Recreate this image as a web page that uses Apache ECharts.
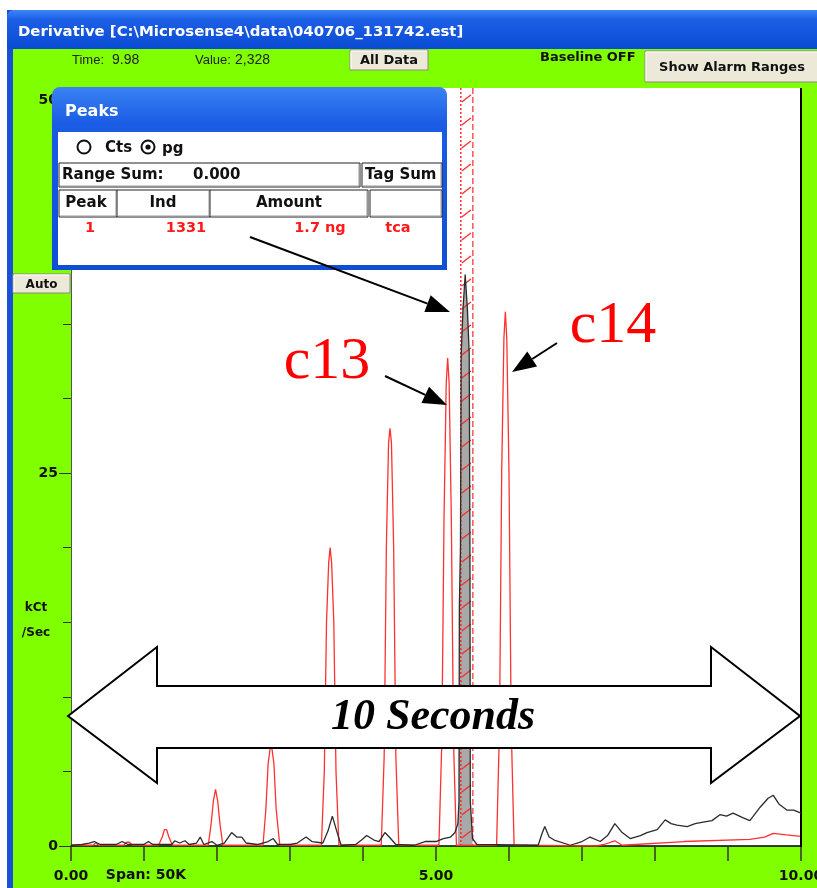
<!DOCTYPE html>
<html><head><meta charset="utf-8">
<script src="https://cdn.jsdelivr.net/npm/echarts@6/dist/echarts.min.js"></script>
<style>html,body{margin:0;padding:0;background:#fff;overflow:hidden}#c{width:817px;height:888px}</style>
</head><body><div id="c"></div>
<script>
// ---- data (time in seconds, signal in kCt/Sec) ----
const xTickLabels = {0: '0.00', 5: '5.00', 10: '10.00'};
const yTickLabels = {0: '0', 25: '25', 50: '50'};
const redTrace = [
[0.00,0.05],[0.30,0.05],[0.34,0.2],[0.38,0.05],[0.72,0.05],[0.76,0.25],[0.80,0.25],[0.84,0.05],
[1.20,0.05],[1.25,0.6],[1.28,1.1],[1.31,1.1],[1.34,0.6],[1.39,0.05],
[1.88,0.05],[1.92,1.5],[1.95,3.0],[1.98,3.8],[2.01,3.0],[2.04,1.5],[2.08,0.05],
[2.63,0.05],[2.67,2.5],[2.70,5.5],[2.74,7.0],[2.78,5.5],[2.81,2.5],[2.86,0.05],
[3.43,0.05],[3.47,5],[3.50,15],[3.53,19],[3.55,20.0],[3.57,19],[3.60,15],[3.63,5],[3.67,0.05],
[4.25,0.05],[4.29,6],[4.32,20],[4.35,27],[4.37,28.0],[4.39,27],[4.42,20],[4.45,6],[4.49,0.05],
[5.04,0.05],[5.08,7],[5.11,22],[5.14,31],[5.16,32.7],[5.18,31],[5.21,22],[5.24,7],[5.28,0.05],
[5.83,0.05],[5.87,8],[5.90,25],[5.93,34],[5.95,35.8],[5.97,34],[6.00,25],[6.03,8],[6.07,0.05],
[7.20,0.0],[7.30,0.1],[7.45,0.35],[7.55,0.05],[8.40,0.3],[9.30,0.45],[9.50,0.6],[9.62,0.85],[9.80,0.75],[10.00,0.65]
];
const blackTrace = [
[0.00,0.05],[0.15,0.1],[0.25,0.2],[0.32,0.3],[0.40,0.1],[0.62,0.1],[0.70,0.3],[0.78,0.1],[1.00,0.1],[1.06,0.3],[1.12,0.1],
[1.38,0.1],[1.42,0.35],[1.49,0.2],[1.56,0.35],[1.62,0.1],[1.72,0.2],[1.77,0.6],[1.82,0.1],[1.93,0.3],[2.00,0.05],
[2.10,0.2],[2.20,0.9],[2.27,0.6],[2.34,0.6],[2.40,0.2],[2.55,0.1],[2.70,0.3],[2.77,0.5],[2.83,0.1],[3.00,0.1],[3.10,0.2],
[3.22,0.6],[3.30,0.3],[3.45,0.2],[3.52,1.0],[3.58,2.0],[3.64,1.0],[3.70,0.05],[3.90,0.1],[3.98,0.4],[4.05,0.7],[4.15,0.4],
[4.22,0.3],[4.30,0.9],[4.36,0.6],[4.45,0.1],[4.70,0.05],[4.85,0.3],[5.00,0.3],[5.10,0.5],[5.20,0.6],[5.26,0.9],[5.30,1.5],
[5.315,3],[5.32,16],[5.335,20],[5.345,33],[5.37,36],[5.40,38.3],[5.43,36],[5.455,33],[5.465,20],[5.47,3],[5.50,0.5],[5.56,0.1],
[6.40,0.05],[6.45,0.8],[6.49,1.3],[6.55,0.6],[6.62,0.4],[6.84,0.05],[7.00,0.3],[7.11,0.6],[7.25,0.3],[7.35,0.7],[7.45,1.5],
[7.55,0.9],[7.66,0.5],[7.80,0.7],[7.89,0.9],[8.03,1.1],[8.14,1.75],[8.22,1.5],[8.30,1.4],[8.44,1.3],[8.55,1.5],[8.66,1.6],
[8.78,1.7],[8.89,2.1],[8.98,2.0],[9.07,2.2],[9.20,1.9],[9.30,1.7],[9.44,2.6],[9.55,3.2],[9.62,3.4],[9.70,2.8],[9.81,2.4],
[9.90,2.4],[10.00,2.2]
];
const tagRange = [5.34, 5.505];   // integration window markers
const peakTable = ['1', '1331', '1.7 ng', 'tca'];

// ---- chart ----
const chart = echarts.init(document.getElementById('c'), null, {renderer: 'canvas'});
const UI = 'DejaVu Sans, Verdana, sans-serif';
const AR = 'Liberation Sans, Arial, sans-serif';
const btnFill = '#ECE9D8';
function button(x, y, w, h, label, size) {
  return [
    {type: 'rect', z: 60, shape: {x: x, y: y, width: w, height: h}, style: {fill: btnFill, stroke: '#8a8a80', lineWidth: 1}},
    {type: 'polyline', z: 61, shape: {points: [[x + 1, y + h - 1], [x + 1, y + 1], [x + w - 1, y + 1]]}, style: {stroke: '#fff', lineWidth: 1, fill: null}},
    {type: 'text', z: 62, style: {x: x + w / 2, y: y + h / 2 + 1, text: label, fill: '#111', font: 'bold ' + size + 'px ' + UI, align: 'center', verticalAlign: 'middle'}}
  ];
}
function cell(x, y, w, h) {
  return [
    {type: 'rect', z: 71, shape: {x: x, y: y, width: w, height: h}, style: {fill: '#fff', stroke: '#222', lineWidth: 1}},
    {type: 'polyline', z: 72, shape: {points: [[x + 1, y + h - 1], [x + w - 1, y + h - 1], [x + w - 1, y + 1]]}, style: {stroke: '#999', lineWidth: 1, fill: null}}
  ];
}
function txt(x, y, s, font, color, align, z) {
  return {type: 'text', z: z || 75, style: {x: x, y: y, text: s, font: font, fill: color || '#111', align: align || 'left', verticalAlign: 'middle'}};
}
function arrow(x1, y1, x2, y2) {
  const a = Math.atan2(y2 - y1, x2 - x1), L = 24, W = 9;
  const bx = x2 - L * Math.cos(a), by = y2 - L * Math.sin(a);
  const px = -Math.sin(a) * W, py = Math.cos(a) * W;
  return [
    {type: 'line', z: 90, shape: {x1: x1, y1: y1, x2: bx, y2: by}, style: {stroke: '#000', lineWidth: 2}},
    {type: 'polygon', z: 90, shape: {points: [[x2, y2], [bx + px, by + py], [bx - px, by - py]]}, style: {fill: '#000'}}
  ];
}

const graphics = [
  // window frame
  {type: 'rect', z: -30, shape: {x: 7, y: 10, width: 810, height: 878}, style: {fill: '#80FF00'}},
  {type: 'rect', z: -29, shape: {x: 7, y: 10, width: 6, height: 878}, style: {fill: '#1a4fd8'}},
  {type: 'rect', z: -29, shape: {x: 7, y: 10, width: 810, height: 39, r: [7, 0, 0, 0]},
    style: {fill: new echarts.graphic.LinearGradient(0, 0, 0, 1, [{offset: 0, color: '#3d86f5'}, {offset: 0.25, color: '#1c5fe6'}, {offset: 1, color: '#0a4bd4'}])}},
  txt(18, 32, 'Derivative [C:\\Microsense4\\data\\040706_131742.est]', 'bold 14.9px ' + UI, '#ffffff', 'left', -28),
  // plot background
  {type: 'rect', z: -25, shape: {x: 71, y: 88, width: 730, height: 758}, style: {fill: '#ffffff'}},
  {type: 'line', z: 5, shape: {x1: 801, y1: 88, x2: 801, y2: 847}, style: {stroke: '#000', lineWidth: 2}},
  // header info
  txt(72, 60, 'Time:', '13px ' + AR, '#222'),
  txt(112, 60, '9.98', '14px ' + AR, '#222'),
  txt(195, 60, 'Value:', '13px ' + AR, '#222'),
  txt(235, 60, '2,328', '14px ' + AR, '#222'),
  ...button(350, 50, 78, 20, 'All Data', 13),
  txt(540, 58, 'Baseline OFF', 'bold 13px ' + UI, '#111'),
  ...button(645, 51, 174, 31, 'Show Alarm Ranges', 13),
  ...button(13, 274, 57, 19, 'Auto', 12),
  txt(36, 608, 'kCt', 'bold 12px ' + UI, '#111', 'center'),
  txt(36, 633, '/Sec', 'bold 12px ' + UI, '#111', 'center'),
  txt(146, 875, 'Span: 50K', 'bold 14px ' + UI, '#111', 'center'),
  // Peaks window
  {type: 'rect', z: 70, shape: {x: 52, y: 87, width: 395, height: 183, r: [8, 8, 0, 0]},
    style: {fill: new echarts.graphic.LinearGradient(0, 0, 0, 1, [{offset: 0, color: '#3a82f4'}, {offset: 0.2, color: '#1a5ce4'}, {offset: 1, color: '#0f4fd6'}])}},
  {type: 'rect', z: 70, shape: {x: 58, y: 132, width: 384, height: 133}, style: {fill: '#fff'}},
  txt(65, 112, 'Peaks', 'bold 16px ' + UI, '#ffffff'),
  {type: 'circle', z: 75, shape: {cx: 84, cy: 147, r: 6.5}, style: {fill: '#fff', stroke: '#111', lineWidth: 2}},
  txt(105, 148, 'Cts', 'bold 15px ' + UI, '#111'),
  {type: 'circle', z: 75, shape: {cx: 148, cy: 147, r: 6.5}, style: {fill: '#fff', stroke: '#111', lineWidth: 2}},
  {type: 'circle', z: 76, shape: {cx: 148, cy: 147, r: 2.6}, style: {fill: '#111'}},
  txt(162, 149, 'pg', 'bold 15px ' + UI, '#111'),
  ...cell(59, 163, 301, 24), ...cell(362, 163, 80, 24),
  txt(62, 175, 'Range Sum:', 'bold 15px ' + UI, '#111'),
  txt(193, 175, '0.000', 'bold 15px ' + UI, '#111'),
  txt(365, 175, 'Tag Sum', 'bold 15px ' + UI, '#111'),
  ...cell(59, 190, 58, 27), ...cell(117, 190, 93, 27), ...cell(210, 190, 158, 27), ...cell(370, 190, 72, 27),
  txt(86, 203, 'Peak', 'bold 15px ' + UI, '#111', 'center'),
  txt(163, 203, 'Ind', 'bold 15px ' + UI, '#111', 'center'),
  txt(289, 203, 'Amount', 'bold 15px ' + UI, '#111', 'center'),
  txt(90, 228, peakTable[0], 'bold 14.5px ' + UI, '#ff1a1a', 'center'),
  txt(186, 228, peakTable[1], 'bold 14.5px ' + UI, '#ff1a1a', 'center'),
  txt(320, 228, peakTable[2], 'bold 14.5px ' + UI, '#ff1a1a', 'center'),
  txt(398, 228, peakTable[3], 'bold 14.5px ' + UI, '#ff1a1a', 'center'),
  // annotations
  ...arrow(250, 237, 450, 312),
  ...arrow(385, 376, 447, 405),
  ...arrow(557, 343, 512, 372),
  txt(327, 362, 'c13', '60px Liberation Serif, Times New Roman, serif', '#ff0000', 'center', 90),
  txt(613, 326, 'c14', '60px Liberation Serif, Times New Roman, serif', '#ff0000', 'center', 90),
  {type: 'polygon', z: 88, shape: {points: [[68, 716], [157, 647], [157, 686], [711, 686], [711, 647], [800, 716], [711, 783], [711, 748], [157, 748], [157, 783]]},
    style: {fill: '#fff', stroke: '#000', lineWidth: 2}},
  txt(433, 718, '10 Seconds', 'italic bold 44px Liberation Serif, Times New Roman, serif', '#000', 'center', 89)
];

const option = {
  animation: false,
  backgroundColor: '#ffffff',
  grid: {left: 71, right: 16, top: 100, bottom: 42, containLabel: false, outerBoundsMode: 'none'},
  xAxis: {
    type: 'value', min: 0, max: 10, interval: 1,
    axisLine: {lineStyle: {color: '#000', width: 1.5}},
    axisTick: {length: 15, lineStyle: {color: '#333', width: 1.5}},
    splitLine: {show: false},
    axisLabel: {margin: 23, color: '#111', fontWeight: 'bold', fontSize: 14, fontFamily: UI, showMaxLabel: true,
      formatter: v => xTickLabels[v] !== undefined ? xTickLabels[v] : ''}
  },
  yAxis: {
    type: 'value', min: 0, max: 50, interval: 25,
    axisLine: {show: true, lineStyle: {color: '#555', width: 1}},
    axisTick: {show: true, length: 12, lineStyle: {color: '#333'}},
    minorTick: {show: true, splitNumber: 5, length: 8, lineStyle: {color: '#333'}},
    splitLine: {show: false},
    axisLabel: {margin: 13, color: '#111', fontWeight: 'bold', fontSize: 14, fontFamily: UI,
      formatter: v => yTickLabels[v] !== undefined ? yTickLabels[v] : ''}
  },
  graphic: graphics,
  series: [
    {type: 'line', name: 'tagFill', data: blackTrace.filter(p => p[0] >= 5.30 && p[0] <= 5.52), showSymbol: false, z: 1,
      lineStyle: {width: 0}, areaStyle: {color: '#a9a9a9', opacity: 1}},
    {type: 'custom', name: 'tagRange', z: 3, data: [tagRange],
      renderItem: function (params, api) {
        const a = api.coord([api.value(0), 0]), b = api.coord([api.value(1), 50]);
        const top = 88, bot = a[1];
        const kids = [
          {type: 'line', shape: {x1: a[0], y1: top, x2: a[0], y2: bot}, style: {stroke: '#ff2a2a', lineWidth: 1.5, lineDash: [2, 2]}},
          {type: 'line', shape: {x1: b[0], y1: top, x2: b[0], y2: bot}, style: {stroke: '#ff2a2a', lineWidth: 1.2, lineDash: [6, 3]}}
        ];
        for (let y = bot - 12; y > top + 4; y -= 23) {
          kids.push({type: 'line', shape: {x1: a[0] + 1, y1: y + 4, x2: b[0] - 2, y2: y - 3}, style: {stroke: '#ff2a2a', lineWidth: 1.3}});
        }
        return {type: 'group', children: kids};
      }},
    {type: 'line', name: 'sample', data: redTrace, showSymbol: false, z: 4,
      lineStyle: {color: '#ff3030', width: 1.3}},
    {type: 'line', name: 'reference', data: blackTrace, showSymbol: false, z: 5,
      lineStyle: {color: '#2b2b2b', width: 1.3}}
  ]
};
chart.setOption(option);
</script></body></html>
